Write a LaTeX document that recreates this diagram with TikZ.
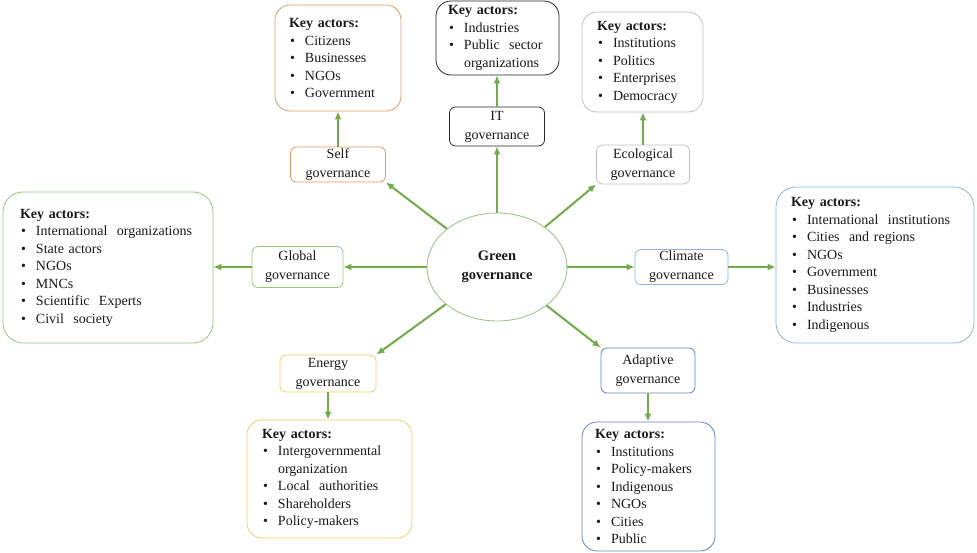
\documentclass[tikz,border=0pt]{standalone}
\usepackage{fontspec}
\setmainfont{Liberation Serif}
\usetikzlibrary{shapes.geometric,arrows.meta}

\definecolor{arrowgreen}{RGB}{112,173,71}
\definecolor{ellgreen}{RGB}{160,198,140}
\definecolor{selfor}{RGB}{236,150,92}
\definecolor{itdark}{RGB}{38,38,38}
\definecolor{ecogray}{RGB}{192,192,192}
\definecolor{globgreen}{RGB}{150,200,120}
\definecolor{climblue}{RGB}{140,180,222}
\definecolor{enyellow}{RGB}{244,208,96}
\definecolor{adblue}{RGB}{98,128,196}
\definecolor{txt}{RGB}{25,25,25}

% bullet, continuation indent and list heading
\newcommand{\kb}{\makebox[16pt][l]{\hspace{1pt}\textbullet}}
\newcommand{\kc}{\hspace*{16pt}}
\newcommand{\kh}{\textbf{Key actors:}}

\begin{document}
\begin{tikzpicture}[x=1pt,y=-1pt,
  every node/.style={text=txt},
  govbox/.style={draw, rounded corners=6pt, line width=0.8pt, align=center,
    inner sep=0pt, font=\fontsize{14}{19}\selectfont},
  keybox/.style={draw, rounded corners=15pt, line width=0.8pt, align=left,
    inner ysep=0pt, font=\fontsize{14}{17.5}\selectfont},
  arr/.style={draw=arrowgreen, line width=2pt, -{Latex[length=8pt,width=7pt]}}]
\useasboundingbox (0,0) rectangle (977,552);

% central ellipse
\node[ellipse, draw=ellgreen, line width=0.9pt, minimum width=140pt, minimum height=108pt,
  inner sep=0pt, align=center, font=\bfseries\fontsize{14.5}{19}\selectfont]
  (green) at (497,267) {Green\\governance};

% governance boxes
\node[govbox, draw=selfor, minimum width=95pt, minimum height=35pt] (self) at (338,164.5) {Self\\governance};
\node[govbox, draw=itdark, minimum width=95pt, minimum height=39pt] (it) at (497,126.5) {IT\\governance};
\node[govbox, draw=ecogray, minimum width=93pt, minimum height=39pt] (eco) at (643,164.5) {Ecological\\governance};
\node[govbox, draw=globgreen, minimum width=91pt, minimum height=41pt] (glob) at (297.5,267) {Global\\governance};
\node[govbox, draw=climblue, minimum width=93pt, minimum height=35pt] (clim) at (681.5,267) {Climate\\governance};
\node[govbox, draw=enyellow, minimum width=96pt, minimum height=37pt] (energy) at (328,373.5) {Energy\\governance};
\node[govbox, draw=adblue, minimum width=94pt, minimum height=45pt] (adapt) at (648,370.5) {Adaptive\\governance};

% key actor boxes
\node[keybox, draw=selfor, text width=98pt, minimum width=126pt, minimum height=106pt] (selfK) at (338,58)
  {\kh\\\kb Citizens\\\kb Businesses\\\kb NGOs\\\kb Government};
\node[keybox, draw=itdark, text width=99pt, minimum width=123pt, minimum height=74pt] (itK) at (497.5,38)
  {\kh\\\kb Industries\\\kb Public\ \ sector\\\kc organizations};
\node[keybox, draw=ecogray, text width=91pt, minimum width=121pt, minimum height=100pt] (ecoK) at (642.5,62)
  {\kh\\\kb Institutions\\\kb Politics\\\kb Enterprises\\\kb Democracy};
\node[keybox, draw=globgreen, rounded corners=20pt, text width=176pt, minimum width=210pt, minimum height=151pt] (globK) at (108,267.5)
  {\kh\\\kb International\ \ organizations\\\kb State actors\\\kb NGOs\\\kb MNCs\\\kb Scientific\ \ Experts\\\kb Civil\ \ society};
\node[keybox, draw=climblue, rounded corners=20pt, text width=168pt, minimum width=198pt, minimum height=156pt] (climK) at (875,265)
  {\kh\\\kb International\ \ institutions\\\kb Cities\ \ and regions\\\kb NGOs\\\kb Government\\\kb Businesses\\\kb Industries\\\kb Indigenous};
\node[keybox, draw=enyellow, text width=135pt, minimum width=165pt, minimum height=118pt] (energyK) at (329.5,479)
  {\kh\\\kb Intergovernmental\\\kc organization\\\kb Local\ \ authorities\\\kb Shareholders\\\kb Policy-makers};
\node[keybox, draw=adblue, text width=107pt, minimum width=133pt, minimum height=129pt] (adaptK) at (648.5,486.5)
  {\kh\\\kb Institutions\\\kb Policy-makers\\\kb Indigenous\\\kb NGOs\\\kb Cities\\\kb Public};

% connectors from the centre
\draw[arr] (green.north) -- (it.south);
\draw[arr] (green) -- (self.south east);
\draw[arr] (green) -- (eco.south west);
\draw[arr] (green.west) -- (green.west -| glob.east);
\draw[arr] (green.east) -- (green.east -| clim.west);
\draw[arr] (green) -- (energy.north east);
\draw[arr] (green) -- (adapt.north west);

% connectors to the key actor boxes
\draw[arr] (self.north) -- (self.north |- selfK.south);
\draw[arr] (it.north) -- (it.north |- itK.south);
\draw[arr] (eco.north) -- (eco.north |- ecoK.south);
\draw[arr] (glob.west) -- (glob.west -| globK.east);
\draw[arr] (clim.east) -- (clim.east -| climK.west);
\draw[arr] (energy.south) -- (energy.south |- energyK.north);
\draw[arr] (adapt.south) -- (adapt.south |- adaptK.north);
\end{tikzpicture}
\end{document}
